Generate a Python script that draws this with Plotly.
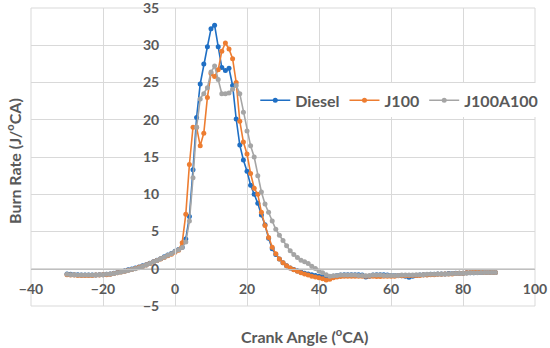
import plotly.graph_objects as go

crank_angle = list(range(-30, 90))

diesel = [
    -0.70, -0.75, -0.80, -0.80, -0.85, -0.85, -0.85, -0.85, -0.85, -0.80,   # -30..-21
    -0.80, -0.75, -0.70, -0.60, -0.50, -0.40, -0.30, -0.15, -0.05, 0.10,    # -20..-11
    0.25, 0.40, 0.55, 0.75, 0.95, 1.15, 1.35, 1.60, 1.85, 2.05,             # -10..-1
    2.35, 2.60, 2.90, 4.00, 7.00, 13.3, 20.3, 24.8, 27.5, 29.8,             # 0..9
    32.2, 32.7, 29.8, 27.0, 26.6, 26.9, 24.6, 20.1, 16.6, 14.6,             # 10..19
    13.1, 11.2, 10.0, 8.8, 7.2, 5.9, 4.1, 2.7, 1.9, 1.3,                    # 20..29
    0.8, 0.4, 0.1, -0.1, -0.3, -0.45, -0.6, -0.7, -0.8, -0.9,               # 30..39
    -1.0, -1.05, -1.15, -1.1, -1.0, -0.9, -0.85, -0.8, -0.8, -0.8,          # 40..49
    -0.8, -0.8, -0.85, -1.1, -1.0, -0.85, -0.8, -0.8, -0.8, -0.85,          # 50..59
    -0.9, -0.9, -0.9, -0.95, -1.0, -1.15, -1.0, -0.9, -0.85, -0.8,          # 60..69
    -0.8, -0.75, -0.75, -0.7, -0.7, -0.7, -0.65, -0.65, -0.6, -0.6,         # 70..79
    -0.6, -0.55, -0.55, -0.55, -0.5, -0.5, -0.5, -0.5, -0.5, -0.5,          # 80..89
]

j100 = [
    -0.80, -0.85, -0.85, -0.90, -0.90, -0.90, -0.90, -0.90, -0.85, -0.85,   # -30..-21
    -0.80, -0.80, -0.75, -0.65, -0.55, -0.45, -0.35, -0.20, -0.10, 0.05,    # -20..-11
    0.20, 0.35, 0.50, 0.70, 0.90, 1.10, 1.30, 1.50, 1.75, 1.95,             # -10..-1
    2.20, 2.50, 3.50, 7.30, 14.0, 19.0, 19.0, 16.5, 18.2, 23.0,             # 0..9
    26.2, 25.8, 26.7, 29.2, 30.3, 29.5, 28.2, 25.0, 19.8, 17.0,             # 10..19
    15.4, 12.8, 10.8, 10.0, 7.6, 5.8, 4.2, 2.9, 2.0, 1.3,                   # 20..29
    0.8, 0.4, 0.1, -0.15, -0.35, -0.55, -0.7, -0.85, -1.0, -1.1,            # 30..39
    -1.2, -1.35, -1.5, -1.4, -1.2, -1.1, -1.05, -1.0, -1.0, -1.0,           # 40..49
    -1.0, -1.0, -1.0, -1.0, -1.0, -1.0, -1.05, -1.05, -1.0, -1.0,           # 50..59
    -1.0, -1.0, -0.95, -0.95, -0.95, -0.95, -0.9, -0.9, -0.9, -0.85,        # 60..69
    -0.85, -0.8, -0.8, -0.75, -0.75, -0.7, -0.7, -0.7, -0.65, -0.6,         # 70..79
    -0.6, -0.55, -0.5, -0.45, -0.4, -0.45, -0.5, -0.5, -0.5, -0.5,          # 80..89
]

j100a100 = [
    -0.75, -0.80, -0.80, -0.85, -0.85, -0.85, -0.85, -0.85, -0.85, -0.80,   # -30..-21
    -0.80, -0.75, -0.70, -0.65, -0.55, -0.45, -0.35, -0.25, -0.10, 0.00,    # -20..-11
    0.15, 0.30, 0.50, 0.70, 0.90, 1.10, 1.35, 1.55, 1.80, 2.00,             # -10..-1
    2.30, 2.55, 2.85, 3.60, 6.40, 12.2, 19.0, 22.8, 23.5, 24.3,             # 0..9
    26.4, 27.2, 25.4, 23.5, 23.5, 23.6, 24.1, 24.6, 23.5, 21.0,             # 10..19
    18.5, 16.5, 15.0, 12.5, 10.3, 8.7, 7.6, 6.4, 5.3, 4.5,                  # 20..29
    3.8, 3.1, 2.4, 1.9, 1.5, 1.15, 0.95, 0.7, 0.35, 0.05,                   # 30..39
    -0.3, -0.55, -0.8, -1.0, -0.95, -0.9, -0.85, -0.85, -0.85, -0.85,       # 40..49
    -0.85, -0.9, -0.9, -0.95, -0.9, -0.85, -0.85, -0.85, -0.9, -0.9,        # 50..59
    -0.9, -0.9, -0.9, -0.85, -0.85, -0.85, -0.85, -0.8, -0.8, -0.8,         # 60..69
    -0.75, -0.75, -0.75, -0.7, -0.7, -0.7, -0.7, -0.65, -0.65, -0.6,        # 70..79
    -0.6, -0.6, -0.55, -0.55, -0.55, -0.5, -0.5, -0.5, -0.5, -0.5,          # 80..89
]

series_names = ["Diesel", "J100", "J100A100"]
series_colors = ["#1F6FC4", "#ED7D31", "#A5A5A5"]
x_ticks = [-40, -20, 0, 20, 40, 60, 80, 100]
y_ticks = [-5, 0, 5, 10, 15, 20, 25, 30, 35]

x_title = "Crank Angle (<sup>o</sup>CA)"
y_title = "Burn Rate (J/<sup>o</sup>CA)"

FONT = "Lato"
TXT = "#595959"
GRID = "#D9D9D9"

fig = go.Figure()
for name, ys, col in zip(series_names, [diesel, j100, j100a100], series_colors):
    fig.add_trace(go.Scatter(
        x=crank_angle, y=ys, name=name, mode="lines+markers",
        line=dict(color=col, width=1.6),
        marker=dict(color=col, size=5, symbol="circle"),
    ))

x_min, x_max = -40, 100
y_min, y_max = -5, 35

fig.update_layout(
    width=550, height=348,
    margin=dict(l=31, r=15, t=8, b=42, autoexpand=False),
    paper_bgcolor="white", plot_bgcolor="white",
    font=dict(family=FONT, color=TXT),
    showlegend=True,
    legend=dict(
        orientation="h", x=0.445, y=0.69, xanchor="left", yanchor="middle",
        font=dict(family=FONT, size=16, color=TXT, weight="bold"),
        bgcolor="white", itemwidth=30, tracegroupgap=0,
    ),
    xaxis=dict(
        range=[x_min, x_max], tickvals=x_ticks, showgrid=True, gridcolor=GRID, gridwidth=1,
        zeroline=False, showline=True, linecolor="#BFBFBF", linewidth=1,
        anchor="free", position=(0 - y_min) / (y_max - y_min),
        ticks="", tickfont=dict(family=FONT, size=14, color=TXT, weight="bold"),
        ticklabelstandoff=7, automargin=False, ticklabeloverflow="allow",
    ),
    yaxis=dict(
        range=[y_min, y_max], tickvals=y_ticks, showgrid=True, gridcolor=GRID, gridwidth=1,
        zeroline=False, showline=True, linecolor=GRID, linewidth=1,
        anchor="free", position=(0 - x_min) / (x_max - x_min),
        ticks="", tickfont=dict(family=FONT, size=14, color=TXT, weight="bold"),
        ticklabelstandoff=13, automargin=False, ticklabeloverflow="allow",
    ),
    shapes=[
        dict(type="rect", xref="paper", yref="paper", x0=0, y0=0, x1=1, y1=1,
             line=dict(color=GRID, width=1), layer="below"),
    ],
    annotations=[
        dict(text=x_title, xref="paper", yref="paper", x=(304 - 31) / 504, y=-0.1,
             yanchor="middle", xanchor="center", showarrow=False,
             font=dict(family=FONT, size=16, color=TXT, weight="bold")),
        dict(text=y_title, xref="paper", yref="paper", x=(13 - 31) / 504, y=(306 - 161) / 298,
             xanchor="center", yanchor="middle", textangle=-90, showarrow=False,
             font=dict(family=FONT, size=16, color=TXT, weight="bold")),
    ],
)

fig.write_html("out.html", config={"displayModeBar": False},
               post_script="document.body.style.margin='0';")
